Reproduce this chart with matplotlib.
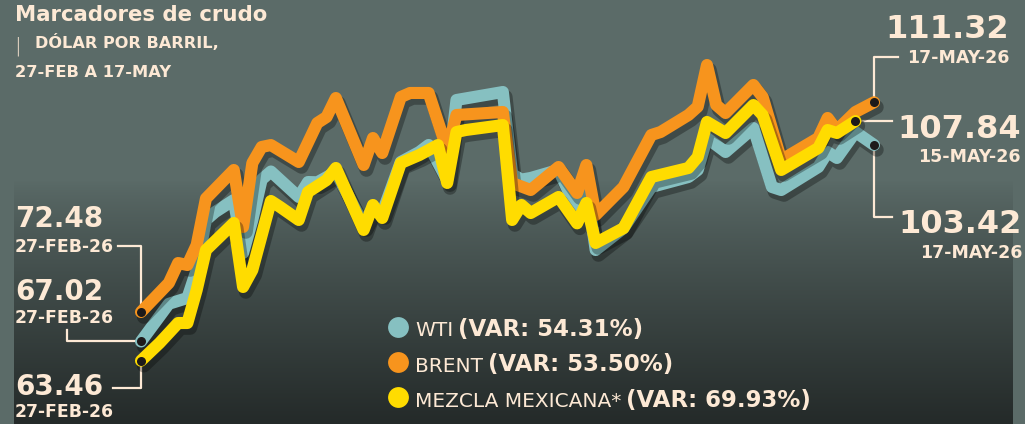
import numpy as np
import matplotlib
matplotlib.use("Agg")
import matplotlib.pyplot as plt
import matplotlib.patheffects as pe
from matplotlib.lines import Line2D

W, H = 1025, 424

# days counted from 27-feb-26, prices in dollars per barrel
wti_days = [0, 3, 5, 6, 7, 8, 10, 11, 12, 13, 14, 17, 18, 19, 21, 24, 25, 26, 28, 30,
            31, 33, 34, 39, 40, 41, 42, 45, 47, 48, 49, 52, 55, 59, 60, 61, 63, 66, 68,
            69, 73, 74, 75, 77, 79]
wti = [67.02, 74.0, 75.07, 80.26, 89.52, 91.0, 93.22, 83.41, 89.52, 97.0, 98.5, 93.78,
       96.55, 96.5, 98.4, 88.59, 91.92, 90.81, 100.26, 102.11, 103.41, 96.9, 111.74,
       113.22, 98.0, 97.0, 97.3, 98.8, 91.4, 96.0, 83.96, 88.0, 95.63, 97.48, 98.78,
       104.7, 102.11, 106.55, 95.63, 95.07, 99.33, 102.11, 101.0, 105.81, 103.42]

brent_days = [0, 3, 4, 5, 6, 7, 10, 11, 12, 13, 14, 17, 19, 20, 21, 24, 25, 26, 28, 29,
              31, 33, 34, 39, 40, 42, 45, 47, 48, 49, 52, 55, 56, 59, 60, 61, 62, 63, 66,
              67, 69, 73, 74, 75, 77, 79]
brent = [72.48, 77.85, 81.55, 81.18, 84.89, 93.5, 98.78, 88.22, 100.07, 103.04, 103.4,
         100.26, 107.48, 108.59, 112.11, 99.7, 104.7, 101.92, 112.29, 113.04, 113.04,
         102.5, 108.96, 109.52, 96.37, 95.07, 99.33, 94.52, 99.7, 90.44, 95.63, 105.26,
         105.81, 108.96, 110.5, 118.22, 110.81, 109.33, 114.52, 112.29, 100.63, 104.7,
         108.41, 106.18, 109.52, 111.32]

mex_days = [0, 2, 4, 5, 6, 7, 10, 11, 12, 14, 15, 17, 18, 20, 21, 24, 25, 26, 28, 30,
            32, 33, 34, 35, 39, 40, 41, 42, 45, 47, 48, 49, 52, 55, 59, 60, 61, 63, 66,
            67, 69, 73, 74, 75, 77]
mex = [63.46, 66.74, 70.44, 70.44, 76.55, 83.96, 88.96, 77.11, 80.26, 93.04, 91.92,
       89.52, 94.7, 96.92, 99.15, 87.67, 92.3, 89.89, 100.07, 101.55, 103.4, 96.37,
       105.81, 106.18, 107.1, 89.52, 92.3, 90.81, 93.78, 88.9, 92.67, 85.26, 88.0,
       97.48, 99.15, 101.18, 107.67, 105.63, 110.81, 108.96, 98.78, 102.85, 106.18,
       105.63, 107.84]

legend_names = ["WTI", "BRENT", "MEZCLA MEXICANA*"]
legend_vars = ["(VAR: 54.31%)", "(VAR: 53.50%)", "(VAR: 69.93%)"]
start_date = "27-FEB-26"
end_dates = ["17-MAY-26", "17-MAY-26", "15-MAY-26"]

cream = "#fde9d5"
teal = "#86c0c1"
orange = "#f7941d"
yellow = "#ffdc00"
slate = np.array([91, 107, 104]) / 255
dark = np.array([36, 42, 41]) / 255

fig = plt.figure(figsize=(W / 100, H / 100), dpi=100)
fig.patch.set_facecolor(slate)


def fx(x):
    return x / W


def fy(y):
    return 1 - y / H


# background gradient panel
bg = fig.add_axes([fx(14), 0, fx(1013 - 14), 1], zorder=-3)
rows = np.arange(H)
t = np.clip((rows - 180) / (H - 180), 0, 1) ** 0.85
grad = slate[None, :] * (1 - t[:, None]) + dark[None, :] * t[:, None]
bg.imshow(grad[:, None, :], aspect="auto", extent=(0, 1, 0, 1))
bg.axis("off")

# main axes: day 0 at x=141 px, day 79 at x=874 px
ax = fig.add_axes([fx(141), 0, fx(874 - 141), 1], zorder=0)
ax.set_xlim(0, 79)
ax.set_ylim(72.48 - (H - 312) / 5.4, 72.48 + 312 / 5.4)
ax.axis("off")
ax.patch.set_alpha(0)

shadow = [pe.SimpleLineShadow(offset=(2, -3.5), shadow_color="black", alpha=0.3,
                              linewidth=10),
          pe.Normal()]
series = [(wti_days, wti, teal), (brent_days, brent, orange), (mex_days, mex, yellow)]
for days, vals, col in series:
    ax.plot(days, vals, color=col, lw=8.7, solid_capstyle="round",
            solid_joinstyle="round", clip_on=False, path_effects=shadow)
for days, vals, col in series:
    ax.plot([days[0], days[-1]], [vals[0], vals[-1]], "o", ms=6.5,
            color="#1d1a1a", mec="none", clip_on=False, zorder=5)


def dot_px(d, v):
    x, y = ax.transData.transform((d, v))
    return x, H - y


def leader(xs, ys):
    fig.add_artist(Line2D([fx(x) for x in xs], [fy(y) for y in ys], color=cream,
                          lw=1.6, transform=fig.transFigure, zorder=-1))


# leaders, left side
bx, by = dot_px(brent_days[0], brent[0])
leader([118, bx, bx], [246, 246, by])
wx, wy = dot_px(wti_days[0], wti[0])
leader([wx, 67, 67], [wy, wy, 330])
mx, my = dot_px(mex_days[0], mex[0])
leader([mx, mx, 113], [my, 388, 388])

# leaders, right side
bx, by = dot_px(brent_days[-1], brent[-1])
leader([898, bx, bx], [57, 57, by])
mx, my = dot_px(mex_days[-1], mex[-1])
leader([mx, 892], [my, my])
wx, wy = dot_px(wti_days[-1], wti[-1])
leader([wx, wx, 892], [wy, 217, 217])

txt = dict(color=cream, family="DejaVu Sans", fontweight="bold", va="baseline")

# title
fig.text(fx(15), fy(21), "Marcadores de crudo", fontsize=15.3, **txt)
fig.text(fx(14), fy(51), "|", color=cream, family="DejaVu Sans", fontsize=14,
         fontweight="light", va="baseline")
fig.text(fx(35), fy(48), "DÓLAR POR BARRIL,", fontsize=11.6, **txt)
fig.text(fx(15), fy(77), "27-FEB A 17-MAY", fontsize=11.7, **txt)

# start values
for val, base in [(brent[0], 227), (wti[0], 300), (mex[0], 395)]:
    fig.text(fx(15), fy(base), f"{val:.2f}", fontsize=20, **txt)
for base in [252, 323, 417]:
    fig.text(fx(15), fy(base), start_date, fontsize=12.4, **txt)

# end values
ends = [(brent[-1], 38, 1009, end_dates[0], 63),
        (mex[-1], 138, 1021, end_dates[2], 162),
        (wti[-1], 233, 1022, end_dates[1], 258)]
for val, base, right, date, dbase in ends:
    fig.text(fx(right), fy(base), f"{val:.2f}", fontsize=23, ha="right", **txt)
    fig.text(fx(right), fy(dbase), date, fontsize=12.5, ha="right", **txt)

# legend
renderer = fig.canvas.get_renderer()
for i, col in enumerate([teal, orange, yellow]):
    cy = 327 + 35 * i
    fig.add_artist(Line2D([fx(398)], [fy(cy)], marker="o", ms=15, color=col,
                          mec="none", transform=fig.transFigure))
    base = 336 + 35.5 * i
    name = fig.text(fx(415), fy(base), legend_names[i], color=cream,
                    family="DejaVu Sans", fontsize=14.5, va="baseline")
    ext = name.get_window_extent(renderer)
    fig.text(fx(ext.x1 + 5), fy(base), legend_vars[i], fontsize=16.5, **txt)

fig.savefig("out.png", dpi=100, facecolor=fig.get_facecolor())
